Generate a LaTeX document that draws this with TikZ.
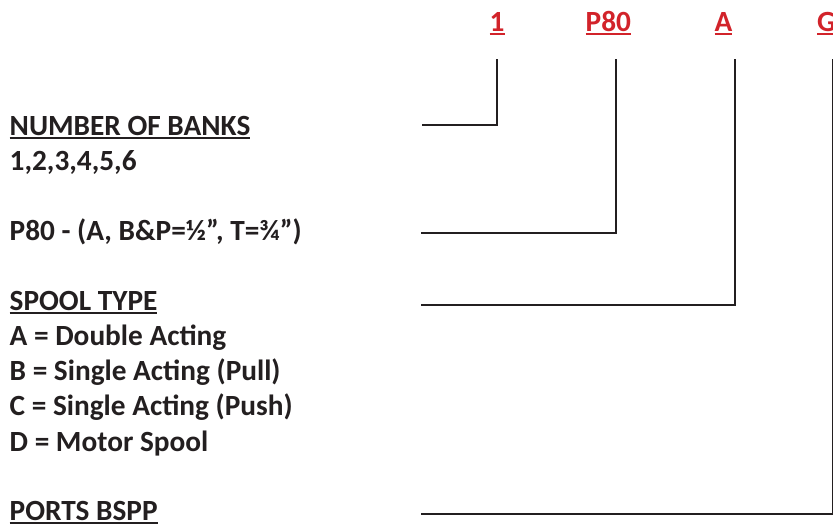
\documentclass[tikz,border=0pt]{standalone}
\usepackage{fontspec}
\setmainfont{Carlito}
\definecolor{ink}{HTML}{231F20}
\definecolor{codered}{HTML}{D2232A}
\newcommand\myul[1]{\setbox0\hbox{#1}\rlap{\rule[-3.6pt]{\wd0}{2pt}}\box0}
\begin{document}
\begin{tikzpicture}[x=1pt,y=-1pt,
  lbl/.style={anchor=base west,inner sep=0pt,text=ink,font=\fontsize{29.3}{35}\selectfont\bfseries},
  hdr/.style={anchor=base west,inner sep=0pt,text=codered,font=\fontsize{29.3}{35}\selectfont\bfseries},
  lead/.style={draw=ink,line width=2pt}]
\useasboundingbox (0,0) rectangle (833,527);
% header codes
\node[hdr] (h1) at (489.5,31.7) {\myul{1}};
\node[hdr] (h2) at (585.5,31.7) {\myul{P80}};
\node[hdr] (h3) at (714.5,31.7) {\myul{A}};
\node[hdr] (h4) at (817,31.7) {\myul{G}};
% left descriptions
\node[lbl] (banks) at (9.5,135.7) {\myul{NUMBER OF BANKS}};
\node[lbl] (banksv) at (9.5,170.7) {1,2,3,4,5,6};
\node[lbl] (p80) at (9.5,240) {P80 - (A, B\&P=½”, T=¾”)};
\node[lbl] (spool) at (9.5,310) {\myul{SPOOL TYPE}};
\node[lbl] (sa) at (9.5,345.5) {A = Double Acting};
\node[lbl] (sb) at (9.5,380.5) {B = Single Acting (Pull)};
\node[lbl] (sc) at (9.5,415.5) {C = Single Acting (Push)};
\node[lbl] (sd) at (9.5,451) {D = Motor Spool};
\node[lbl] (ports) at (9.5,520) {\myul{PORTS BSPP}};
% leader line end points
\coordinate (t1) at (496.7,59.3);
\coordinate (e1) at (422,125.3);
\coordinate (t2) at (616.3,59.3);
\coordinate (e2) at (421,232.7);
\coordinate (t3) at (735,59.3);
\coordinate (e3) at (421,305);
\coordinate (t4) at (833.1,59.3);
\coordinate (e4) at (421,513.7);
\draw[lead] (t1) |- (e1);
\draw[lead] (t2) |- (e2);
\draw[lead] (t3) |- (e3);
\draw[lead] (t4) |- (e4);
\end{tikzpicture}
\end{document}
